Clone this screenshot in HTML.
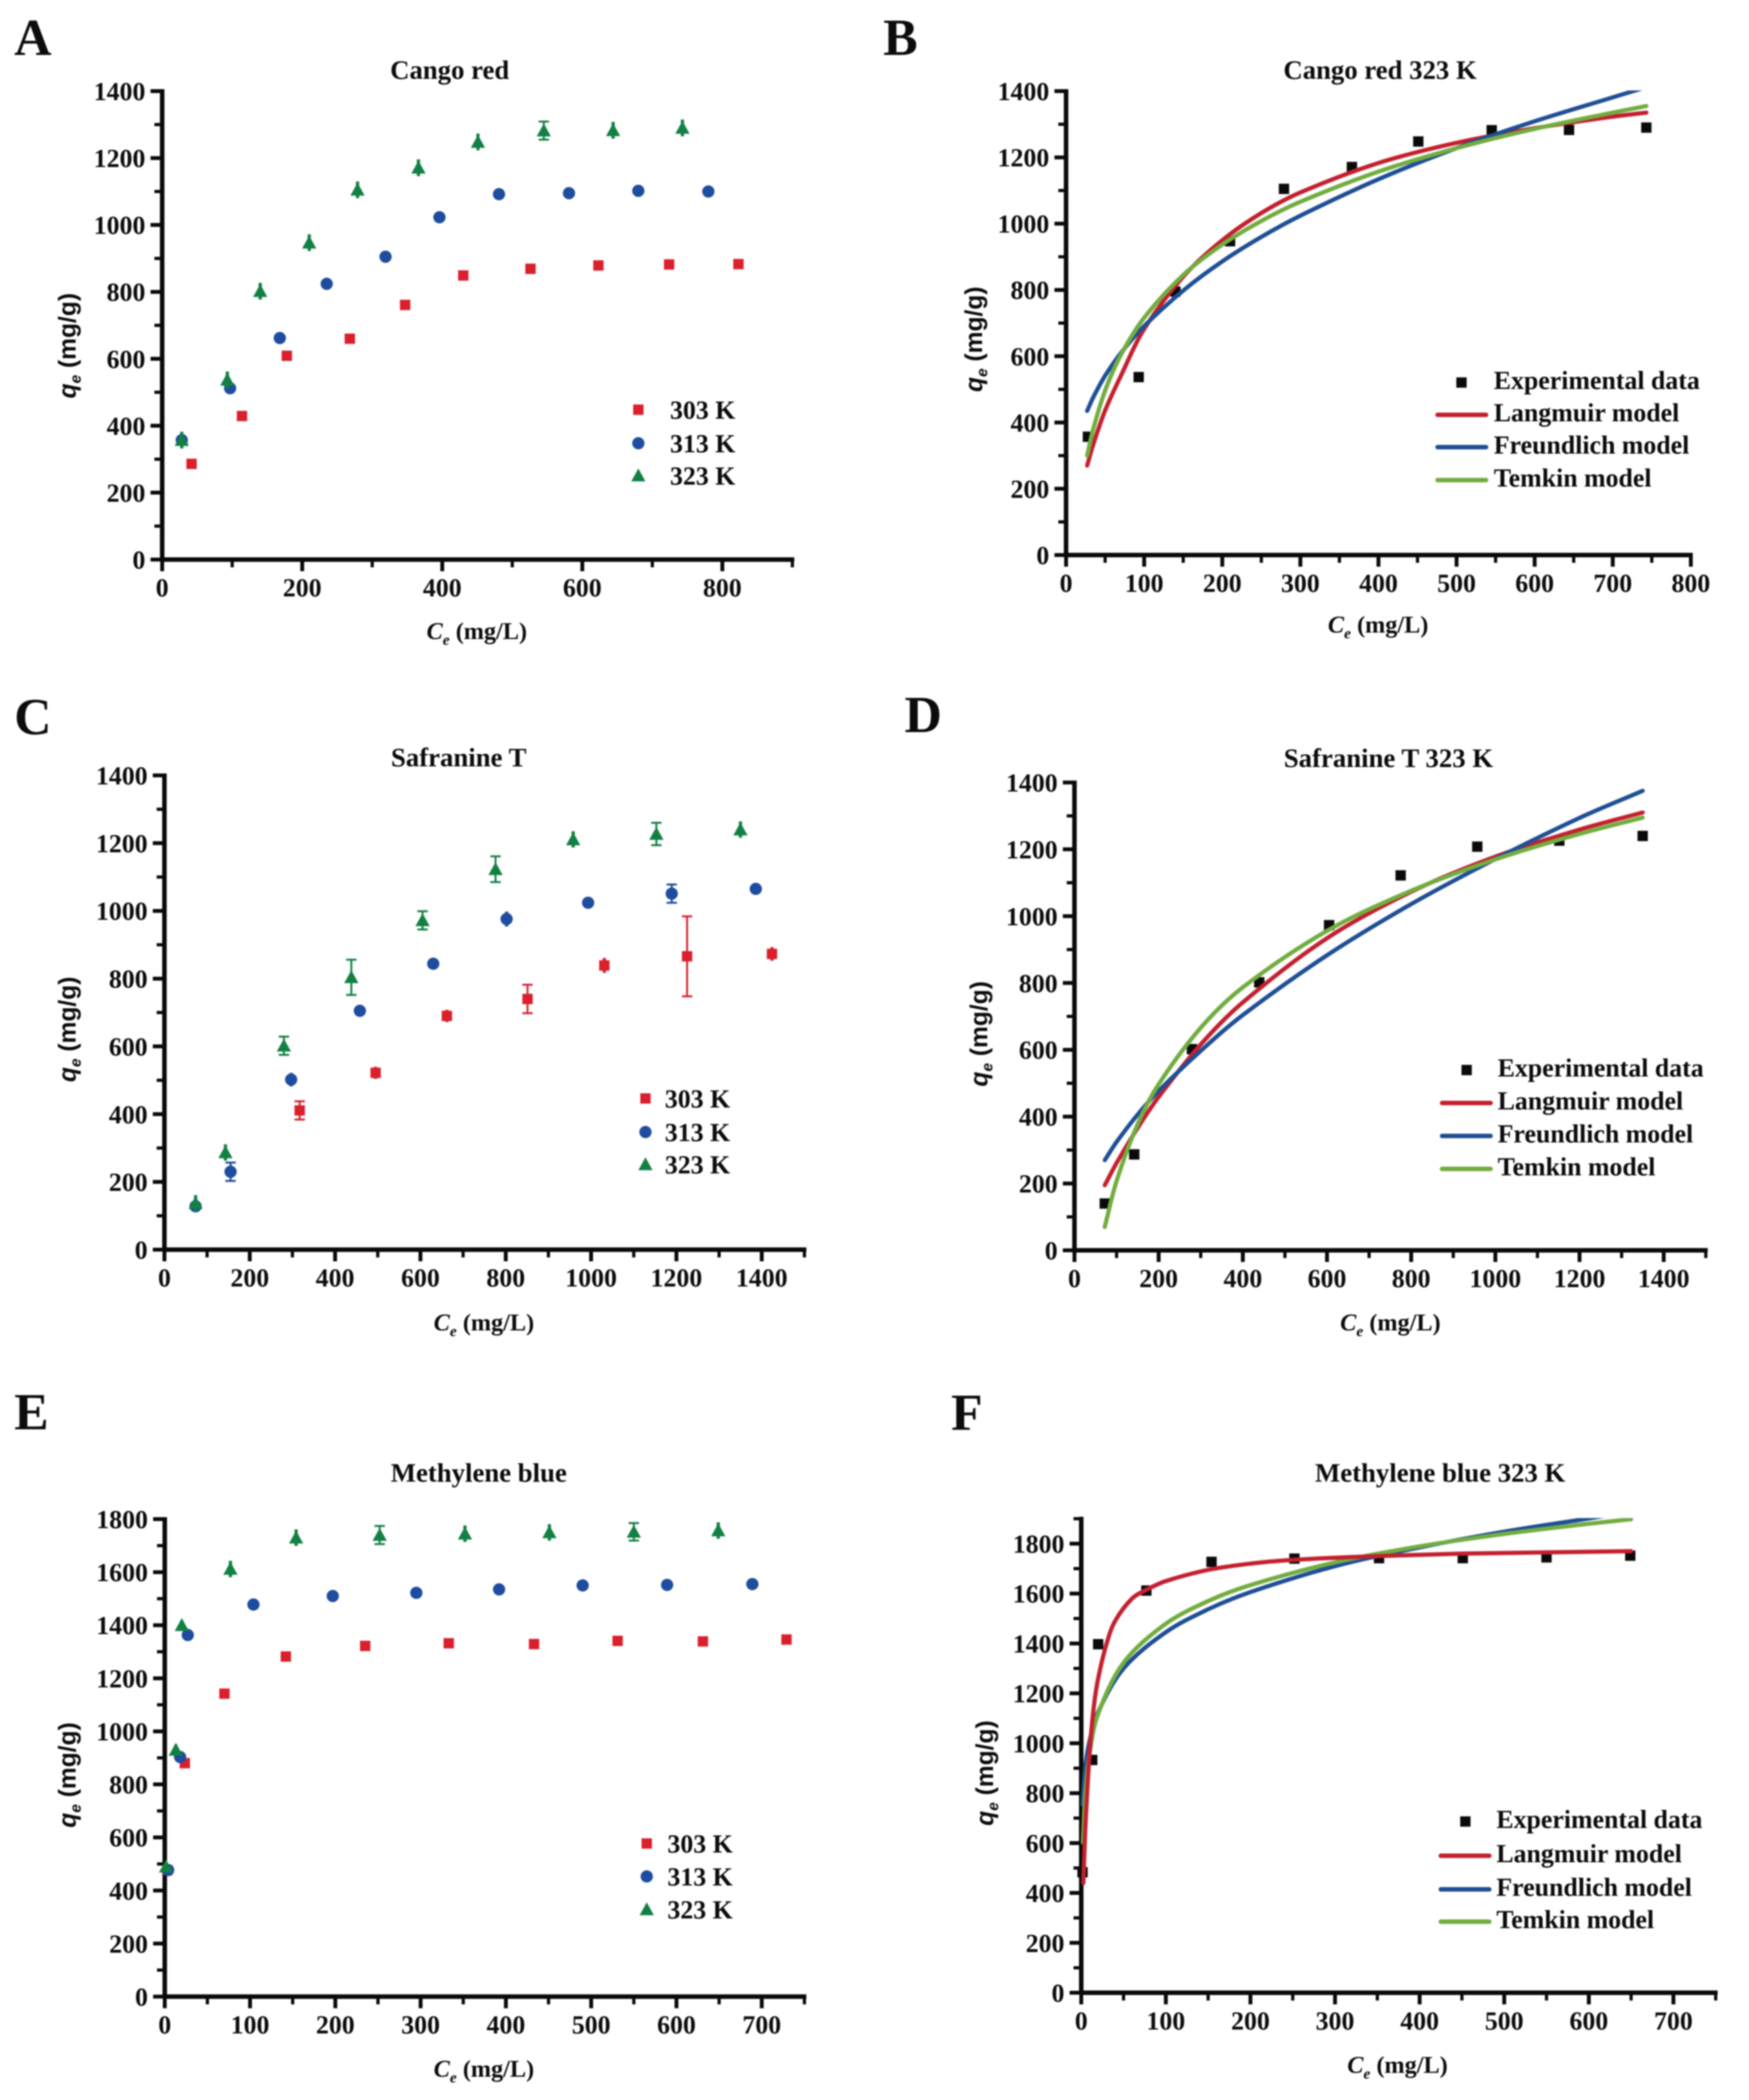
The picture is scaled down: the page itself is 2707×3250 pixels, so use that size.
<!DOCTYPE html>
<html lang="en">
<head>
<meta charset="utf-8">
<title>Adsorption isotherms</title>
<style>
html,body{margin:0;padding:0;background:#fff;}
#figure{display:block;width:2707px;height:3250px;filter:blur(1px);}
text{font-family:"Liberation Serif",serif;font-weight:bold;fill:#0c0c0c;}
</style>
</head>
<body>
<svg id="figure" xmlns="http://www.w3.org/2000/svg" width="2707" height="3250" viewBox="0 0 2707 3250"></svg>
<script>
/* ---------- Panel A data ---------- */
const aCe303=[42,114,178,268,347,430,526,623,724,823];
const aQe303=[286,429,609,660,761,849,869,879,882,883];
const aErr303=[8,8,8,8,8,8,8,8,8,8];
const aCe313=[28,97,168,235,319,396,481,581,680,780];
const aQe313=[357,512,662,824,905,1023,1092,1095,1102,1100];
const aErr313=[10,12,8,10,14,14,14,18,14,12];
const aCe323=[28,93,140,210,279,366,451,545,644,743];
const aQe323=[357,537,802,947,1105,1171,1248,1282,1283,1290];
const aErr323=[25,25,25,25,25,25,25,27,25,25];
const aXTicks=[0,200,400,600,800];
const aYTicks=[0,200,400,600,800,1000,1200,1400];
/* ---------- Panel B data ---------- */
const bCeExp=[28,93,140,210,279,366,451,545,644,743];
const bQeExp=[357,537,795,947,1105,1171,1248,1282,1283,1290];
const bCeFit=[27,35,50,70,100,150,200,250,300,400,500,600,700,743];
const bLangmuir=[270,335,436,540,682,840,950,1032,1094,1183,1244,1288,1323,1335];
const bFreundlich=[435,477,541,609,691,798,886,960,1024,1134,1228,1309,1381,1412];
const bTemkin=[300,382,496,603,716,845,937,1008,1066,1157,1228,1286,1335,1355];
const bXTicks=[0,100,200,300,400,500,600,700,800];
const bYTicks=[0,200,400,600,800,1000,1200,1400];
/* ---------- Panel C data ---------- */
const cCe303=[317,495,662,851,1031,1225,1424];
const cQe303=[411,522,690,740,839,866,873];
const cErr303=[27,18,18,42,22,118,20];
const cCe313=[73,155,297,458,630,802,993,1189,1386];
const cQe313=[128,230,502,705,844,976,1024,1051,1065];
const cErr313=[10,27,20,15,5,22,15,27,10];
const cCe323=[73,143,280,438,605,776,958,1153,1350];
const cQe323=[137,287,602,804,972,1123,1211,1227,1240];
const cErr323=[24,24,27,52,27,38,24,33,24];
const cXTicks=[0,200,400,600,800,1000,1200,1400];
const cYTicks=[0,200,400,600,800,1000,1200,1400];
/* ---------- Panel D data ---------- */
const dCeExp=[72,142,279,439,605,775,957,1152,1350];
const dQeExp=[140,287,602,802,973,1122,1208,1226,1240];
const dCeFit=[72,100,150,200,300,400,600,800,1000,1200,1350];
const dLangmuir=[195,261,366,459,616,742,934,1073,1178,1259,1310];
const dFreundlich=[270,324,406,477,597,704,883,1036,1171,1294,1375];
const dTemkin=[70,207,377,497,666,787,956,1076,1170,1246,1295];
const dXTicks=[0,200,400,600,800,1000,1200,1400];
const dYTicks=[0,200,400,600,800,1000,1200,1400];
/* ---------- Panel E data ---------- */
const eCe303=[3,23.5,70,142,235,333,433,531,631,729];
const eQe303=[477,880,1142,1282,1322,1332,1329,1341,1339,1346];
const eErr303=[8,10,14,16,14,14,14,14,14,14];
const eCe313=[4,18,27,104,197,295,392,490,589,689];
const eQe313=[477,903,1363,1478,1510,1522,1535,1550,1552,1555];
const eErr313=[8,10,10,14,14,14,14,14,12,14];
const eCe323=[1.5,13,20,77,154,252,352,451,550,649];
const eQe323=[490,930,1400,1612,1730,1740,1745,1750,1752,1757];
const eErr323=[10,20,18,31,31,34,31,31,33,31];
const eXTicks=[0,100,200,300,400,500,600,700];
const eYTicks=[0,200,400,600,800,1000,1200,1400,1600,1800];
/* ---------- Panel F data ---------- */
const fCeExp=[1.5,13,20,77,154,252,352,451,550,649];
const fQeExp=[483,933,1397,1612,1727,1740,1742,1742,1745,1752];
const fCeLangmuir=[2.5,5,10,15,20,30,40,60,77,100,150,200,250,350,450,650];
const fLangmuir=[440,670,970,1150,1260,1400,1490,1580,1615,1650,1695,1720,1735,1750,1760,1770];
const fCeFreundlich=[1.5,5,10,20,50,100,150,200,300,400,500,600,625];
const fFreundlich=[755,910,1012,1125,1300,1445,1537,1606,1710,1785,1848,1901,1915];
const fCeTemkin=[2,5,10,20,50,100,150,200,300,400,500,600,650];
const fTemkin=[602,807,963,1118,1323,1479,1570,1634,1725,1789,1839,1880,1898];
const fXTicks=[0,100,200,300,400,500,600,700];
const fYTicks=[0,200,400,600,800,1000,1200,1400,1600,1800];

const COL={red:'#da1f2d',blue:'#1e4d9f',green:'#128043',black:'#0a0a0a',lred:'#c4202f',lblue:'#1f4f96',lgreen:'#72ad40'};
const NS='http://www.w3.org/2000/svg';
const svg=document.getElementById('figure');

function mk(tag,attrs,parent){
  const e=document.createElementNS(NS,tag);
  for(const k in attrs){e.setAttribute(k,attrs[k]);}
  parent.appendChild(e);
  return e;
}
function drawMarker(kind,cx,cy,color,g){
  let m;
  if(kind==='square'){
    m=mk('rect',{x:cx-8,y:cy-8,width:16,height:16,fill:color},g);
  }else if(kind==='circle'){
    m=mk('circle',{cx:cx,cy:cy,r:9.5,fill:color},g);
  }else{
    m=mk('polygon',{points:(cx-11)+','+(cy+9)+' '+(cx+11)+','+(cy+9)+' '+cx+','+(cy-11),fill:color},g);
  }
  return m;
}
function curvePath(xs,ys,sx,sy){
  const p=xs.map(function(x,i){return [sx(x),sy(ys[i])];});
  const dist=function(a,b){return Math.max(Math.hypot(a[0]-b[0],a[1]-b[1]),0.01);};
  const tan=p.map(function(pt,i){
    const a=p[Math.max(i-1,0)],b=p[Math.min(i+1,p.length-1)];
    let dt=dist(a,pt)+dist(pt,b);
    if(i===0||i===p.length-1){dt=dist(a,b);}
    return [(b[0]-a[0])/dt,(b[1]-a[1])/dt];
  });
  let d='M'+p[0][0].toFixed(1)+' '+p[0][1].toFixed(1);
  for(let i=0;i<p.length-1;i++){
    const h=dist(p[i],p[i+1])/3;
    d+=' C'+(p[i][0]+tan[i][0]*h).toFixed(1)+' '+(p[i][1]+tan[i][1]*h).toFixed(1)+' '+(p[i+1][0]-tan[i+1][0]*h).toFixed(1)+' '+(p[i+1][1]-tan[i+1][1]*h).toFixed(1)+' '+p[i+1][0].toFixed(1)+' '+p[i+1][1].toFixed(1);
  }
  return d;
}
let clipCount=0;
function drawPanel(c){
  const g=mk('g',{},svg);
  
  
  const sx=function(v){return c.x0+(v-c.xTicks[0])*(c.x1-c.x0)/(c.xTicks[c.xTicks.length-1]-c.xTicks[0]);};
  const sy=function(v){return c.y0+v*(c.y1-c.y0)/c.yRef;};

  const letter=mk('text',{x:c.letterX,y:c.letterY,'font-size':80},g);
  letter.textContent=c.letter;
  
  

  const title=mk('text',{x:c.titleX,y:c.titleY,'font-size':41.4,'text-anchor':'middle'},g);
  title.textContent=c.title;
  
  

  /* axes */
  const axes=mk('g',{stroke:'#0a0a0a',fill:'none'},g);
  
  
  const yTop=sy(c.yMax);
  const xEnd=sx(c.xMax);
  const yAxisLine=mk('line',{x1:c.x0,y1:yTop-3,x2:c.x0,y2:c.y0+3,'stroke-width':7},axes);
  
  
  const xAxisLine=mk('line',{x1:c.x0-3,y1:c.y0,x2:xEnd+3,y2:c.y0,'stroke-width':7},axes);
  
  

  for(let v=0;v<=c.xMax+1e-6;v+=c.xMinor){
    const major=c.xTicks.indexOf(v)>=0;
    const tick=mk('line',{x1:sx(v),y1:c.y0,x2:sx(v),y2:c.y0+(major?18:12),'stroke-width':major?6:5},axes);
    
    
  }
  for(let v=0;v<=c.yMax+1e-6;v+=100){
    const major=c.yTicks.indexOf(v)>=0;
    const tick=mk('line',{x1:c.x0,y1:sy(v),x2:c.x0-(major?18:12),y2:sy(v),'stroke-width':major?6:5},axes);
    
    
  }
  c.xTicks.forEach(function(v){
    const t=mk('text',{x:sx(v),y:c.y0+57,'font-size':40,'text-anchor':'middle'},g);
    t.textContent=String(v);
    
    
  });
  c.yTicks.forEach(function(v){
    const t=mk('text',{x:c.x0-26,y:sy(v)+14,'font-size':40,'text-anchor':'end'},g);
    t.textContent=String(v);
    
    
  });

  /* axis titles */
  const xt=mk('text',{x:c.xLabelX,y:c.xLabelY,'font-size':37.5,'text-anchor':'middle'},g);
  
  
  mk('tspan',{'font-style':'italic'},xt).textContent='C';
  mk('tspan',{'font-style':'italic','font-size':24,dy:9},xt).textContent='e';
  mk('tspan',{dy:-9},xt).textContent=' (mg/L)';

  const yt=mk('text',{x:c.yLabelX,y:c.yLabelY,'font-size':38,'text-anchor':'middle',transform:'rotate(-90 '+c.yLabelX+' '+c.yLabelY+')'},g);
  yt.setAttribute('style','font-family:"Liberation Sans",sans-serif');
  
  
  mk('tspan',{'font-style':'italic'},yt).textContent='q';
  mk('tspan',{'font-style':'italic','font-size':24,dy:8},yt).textContent='e';
  mk('tspan',{dy:-8},yt).textContent=' (mg/g)';

  /* fitted curves */
  const plotId='clip-'+(++clipCount);
  const cp=mk('clipPath',{id:plotId},g);
  mk('rect',{x:c.x0-6,y:yTop-1,width:xEnd-c.x0+12,height:c.y0-yTop+4},cp);

  (c.points||[]).forEach(function(s){
    const sg=mk('g',{},g);
    
    
    s.x.forEach(function(x,i){
      const px=sx(x),py=sy(s.y[i]);
      if(s.err){
        const top=sy(s.y[i]+s.err[i]),bot=sy(s.y[i]-s.err[i]);
        const capped=(bot-py)>=13.5;
        const stem='M'+px+' '+top+'V'+bot;
        const caps=capped?'M'+(px-8)+' '+top+'H'+(px+8)+'M'+(px-8)+' '+bot+'H'+(px+8):'';
        const eb=mk('path',{d:stem+caps,stroke:s.color,'stroke-width':capped?3:5,fill:'none'},sg);
        
        
      }
      const m=drawMarker(s.kind,px,py,s.color,sg);
      
      
    });
  });
  (c.curves||[]).forEach(function(s){
    const p=mk('path',{d:curvePath(s.x,s.y,sx,sy),fill:'none',stroke:s.color,'stroke-width':6.5,'stroke-linecap':'round','clip-path':'url(#'+plotId+')'},g);
    
    
  });

  /* legend */
  const lg=mk('g',{},g);
  
  
  c.legend.forEach(function(l,i){
    const y=c.legendY[i];
    const row=mk('g',{},lg);
    
    
    if(l.line){
      const sw=mk('line',{x1:c.lineX1,y1:y,x2:c.lineX2,y2:y,stroke:l.color,'stroke-width':7,'stroke-linecap':'round'},row);
      
      
    }else{
      const sw=drawMarker(l.kind,c.markerX,y,l.color,row);
      
      
    }
    const t=mk('text',{x:c.textX,y:y+c.legendBase,'font-size':40},row);
    t.textContent=l.label;
    
    
  });
}
const tempLegend=[{kind:'square',color:COL.red,label:'303 K'},{kind:'circle',color:COL.blue,label:'313 K'},{kind:'triangle',color:COL.green,label:'323 K'}];
const fitLegend=[{kind:'square',color:COL.black,label:'Experimental data'},{line:true,color:COL.lred,label:'Langmuir model'},{line:true,color:COL.lblue,label:'Freundlich model'},{line:true,color:COL.lgreen,label:'Temkin model'}];

drawPanel({letter:'A',letterX:22,letterY:85,title:'Cango red',titleX:696,titleY:122,
  x0:251,x1:1118,y0:866,y1:141,yRef:1400,yMax:1400,xMax:900,xMinor:100,xTicks:aXTicks,yTicks:aYTicks,
  xLabelX:738,xLabelY:989,yLabelX:117,yLabelY:535,
  points:[
    {name:'series-303k',kind:'square',color:COL.red,x:aCe303,y:aQe303,err:aErr303},
    {name:'series-313k',kind:'circle',color:COL.blue,x:aCe313,y:aQe313,err:aErr313},
    {name:'series-323k',kind:'triangle',color:COL.green,x:aCe323,y:aQe323,err:aErr323}],
  legend:tempLegend,legendY:[634,686,736],legendBase:14,markerX:988,textX:1037});

drawPanel({letter:'B',letterX:1367,letterY:85,title:'Cango red 323 K',titleX:2136,titleY:122,
  x0:1650,x1:2617,y0:859,y1:141,yRef:1400,yMax:1400,xMax:800,xMinor:50,xTicks:bXTicks,yTicks:bYTicks,
  xLabelX:2133,xLabelY:979,yLabelX:1520,yLabelY:525,
  points:[{name:'experimental-data',kind:'square',color:COL.black,x:bCeExp,y:bQeExp}],
  curves:[
    {name:'langmuir-curve',color:COL.lred,x:bCeFit,y:bLangmuir},
    {name:'freundlich-curve',color:COL.lblue,x:bCeFit,y:bFreundlich},
    {name:'temkin-curve',color:COL.lgreen,x:bCeFit,y:bTemkin}],
  legend:fitLegend,legendY:[592,642,692,743],legendBase:10,markerX:2262,lineX1:2225,lineX2:2300,textX:2312});

drawPanel({letter:'C',letterX:22,letterY:1136,title:'Safranine T',titleX:710,titleY:1186,
  x0:254.5,x1:1179,y0:1934,y1:1200,yRef:1400,yMax:1400,xMax:1500,xMinor:100,xTicks:cXTicks,yTicks:cYTicks,
  xLabelX:749,xLabelY:2059,yLabelX:117,yLabelY:1593,
  points:[
    {name:'series-303k',kind:'square',color:COL.red,x:cCe303,y:cQe303,err:cErr303},
    {name:'series-313k',kind:'circle',color:COL.blue,x:cCe313,y:cQe313,err:cErr313},
    {name:'series-323k',kind:'triangle',color:COL.green,x:cCe323,y:cQe323,err:cErr323}],
  legend:tempLegend,legendY:[1700,1752,1802],legendBase:14,markerX:999,textX:1029});

drawPanel({letter:'D',letterX:1400,letterY:1133,title:'Safranine T 323 K',titleX:2149,titleY:1187,
  x0:1663,x1:2575,y0:1935,y1:1211,yRef:1400,yMax:1400,xMax:1500,xMinor:100,xTicks:dXTicks,yTicks:dYTicks,
  xLabelX:2152,xLabelY:2059,yLabelX:1528,yLabelY:1600,
  points:[{name:'experimental-data',kind:'square',color:COL.black,x:dCeExp,y:dQeExp}],
  curves:[
    {name:'langmuir-curve',color:COL.lred,x:dCeFit,y:dLangmuir},
    {name:'freundlich-curve',color:COL.lblue,x:dCeFit,y:dFreundlich},
    {name:'temkin-curve',color:COL.lgreen,x:dCeFit,y:dTemkin}],
  legend:fitLegend,legendY:[1656,1707,1758,1809],legendBase:10,markerX:2270,lineX1:2232,lineX2:2307,textX:2318});

drawPanel({letter:'E',letterX:22,letterY:2212,title:'Methylene blue',titleX:741,titleY:2293,
  x0:255,x1:1179,y0:3090,y1:2351,yRef:1800,yMax:1800,xMax:750,xMinor:50,xTicks:eXTicks,yTicks:eYTicks,
  xLabelX:749,xLabelY:3214,yLabelX:117,yLabelY:2747,
  points:[
    {name:'series-303k',kind:'square',color:COL.red,x:eCe303,y:eQe303,err:eErr303},
    {name:'series-313k',kind:'circle',color:COL.blue,x:eCe313,y:eQe313,err:eErr313},
    {name:'series-323k',kind:'triangle',color:COL.green,x:eCe323,y:eQe323,err:eErr323}],
  legend:tempLegend,legendY:[2853,2904,2955],legendBase:14,markerX:1001,textX:1033});

drawPanel({letter:'F',letterX:1472,letterY:2213,title:'Methylene blue 323 K',titleX:2229,titleY:2293,
  x0:1673.5,x1:2590,y0:3084,y1:2389,yRef:1800,yMax:1900,xMax:750,xMinor:50,xTicks:fXTicks,yTicks:fYTicks,
  xLabelX:2163,xLabelY:3208,yLabelX:1537,yLabelY:2744,
  points:[{name:'experimental-data',kind:'square',color:COL.black,x:fCeExp,y:fQeExp}],
  curves:[
    {name:'freundlich-curve',color:COL.lblue,x:fCeFreundlich,y:fFreundlich},
    {name:'temkin-curve',color:COL.lgreen,x:fCeTemkin,y:fTemkin},
    {name:'langmuir-curve',color:COL.lred,x:fCeLangmuir,y:fLangmuir}],
  legend:fitLegend,legendY:[2819,2872,2924,2974],legendBase:10,markerX:2268,lineX1:2230,lineX2:2305,textX:2316});
</script>
</body>
</html>
